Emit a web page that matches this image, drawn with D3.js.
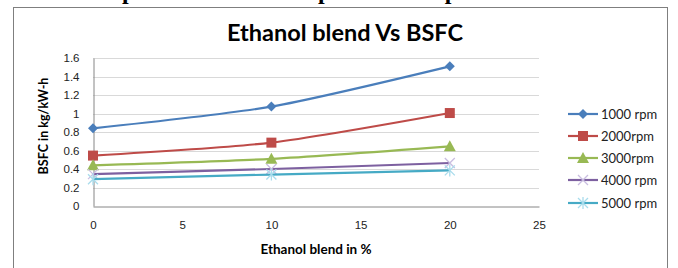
<!DOCTYPE html>
<html>
<head>
<meta charset="utf-8">
<script src="https://cdn.jsdelivr.net/npm/d3@7"></script>
<style>
  body { margin: 0; background: #fff; }
  svg { display: block; font-family: Lato, "Open Sans", sans-serif; }
  .grid line { stroke: #d9d9d9; }
  .axis path, .axis line { stroke: #868686; }
  .axis text { fill: #222; font-size: 11.5px; }
</style>
</head>
<body>
<svg id="chart" width="678" height="268"></svg>
<script>
// Data
var blend = [0, 10, 20];
var seriesNames = ["1000 rpm", "2000rpm", "3000rpm", "4000 rpm", "5000 rpm"];
var rpm1000 = [0.84, 1.075, 1.51];
var rpm2000 = [0.545, 0.685, 1.005];
var rpm3000 = [0.44, 0.51, 0.645];
var rpm4000 = [0.345, 0.40, 0.465];
var rpm5000 = [0.29, 0.34, 0.385];
var xTicks = [0, 5, 10, 15, 20, 25];
var yTicks = [0, 0.2, 0.4, 0.6, 0.8, 1, 1.2, 1.4, 1.6];

var colors = ["#4a7ebb", "#be4b48", "#98b954", "#7d60a0", "#46aac5"];
var markerColors = ["#4a7ebb", "#be4b48", "#98b954", "#c9bde0", "#a9dcec"];
var shapes = ["diamond", "square", "triangle", "x", "star"];

var series = seriesNames.map(function(name, i) {
  var vals = [rpm1000, rpm2000, rpm3000, rpm4000, rpm5000][i];
  return {
    name: name,
    values: blend.map(function(b, j) { return { x: b, y: vals[j] }; })
  };
});

var svg = d3.select("#chart");

// cut-off heading from the page above (only its lower edge shows)
svg.append("text")
  .attr("x", 8).attr("y", -1)
  .style("font-family", "'Liberation Serif', serif")
  .style("font-weight", "bold")
  .style("font-size", "24px")
  .text("4.3 Brake specific fuel consumption of sample");

// chart border
svg.append("rect")
  .attr("x", 13.5).attr("y", 7.5)
  .attr("width", 654).attr("height", 280)
  .attr("fill", "none").attr("stroke", "#7f7f7f");

var xScale = d3.scaleLinear().domain([0, 25]).range([93, 539]);
var yScale = d3.scaleLinear().domain([0, 1.6]).range([206, 58]);

// gridlines
svg.append("g").attr("class", "grid")
  .selectAll("line").data(yTicks.slice(1)).enter().append("line")
  .attr("x1", xScale(0)).attr("x2", xScale(25))
  .attr("y1", function(d) { return Math.round(yScale(d)) + 0.5; })
  .attr("y2", function(d) { return Math.round(yScale(d)) + 0.5; });

var xAxis = d3.axisBottom(xScale).tickValues(xTicks).tickSize(0).tickPadding(14)
  .tickFormat(d3.format("d"));
var yAxis = d3.axisLeft(yScale).tickValues(yTicks).tickSize(0).tickPadding(14)
  .tickFormat(function(d) { return d3.format("")(d); });

svg.append("g").attr("class", "axis")
  .attr("transform", "translate(0," + (Math.round(yScale(0)) + 0.5) + ")")
  .call(xAxis);
svg.append("g").attr("class", "axis")
  .attr("transform", "translate(" + (Math.round(xScale(0)) + 0.5) + ",0)")
  .call(yAxis);

// title and axis titles
svg.append("text")
  .attr("x", 345).attr("y", 41)
  .attr("text-anchor", "middle")
  .style("font-weight", "bold").style("font-size", "23.5px")
  .text("Ethanol blend Vs BSFC");

svg.append("text")
  .attr("x", 316).attr("y", 254)
  .attr("text-anchor", "middle")
  .style("font-weight", "bold").style("font-size", "13.5px")
  .text("Ethanol blend in %");

svg.append("text")
  .attr("transform", "translate(48,126) rotate(-90)")
  .attr("text-anchor", "middle")
  .style("font-weight", "bold").style("font-size", "12.5px")
  .text("BSFC in kg/kW-h");

// smooth lines like excel
var line = d3.line()
  .curve(d3.curveCardinal.tension(0.3))
  .x(function(d) { return xScale(d.x); })
  .y(function(d) { return yScale(d.y); });

function drawMarker(g, shape, color) {
  if (shape === "diamond") {
    g.append("path").attr("d", "M0,-5L5,0L0,5L-5,0Z").attr("fill", color);
  } else if (shape === "square") {
    g.append("rect").attr("x", -5).attr("y", -5).attr("width", 10).attr("height", 10)
      .attr("fill", color);
  } else if (shape === "triangle") {
    g.append("path").attr("d", "M0,-6L6,5L-6,5Z").attr("fill", color);
  } else if (shape === "x") {
    g.append("path").attr("d", "M-5,-5L5,5M-5,5L5,-5").attr("stroke", color)
      .attr("stroke-width", 1.3);
  } else {
    g.append("path").attr("d", "M-5,-5L5,5M-5,5L5,-5M0,-6L0,6").attr("stroke", color)
      .attr("stroke-width", 1.3);
  }
}

var groups = svg.selectAll(".series").data(series).enter().append("g")
  .attr("class", "series");

groups.append("path")
  .attr("d", function(d) { return line(d.values); })
  .attr("fill", "none")
  .attr("stroke", function(d, i) { return colors[i]; })
  .attr("stroke-width", 2.2);

groups.each(function(s, i) {
  d3.select(this).selectAll(".pt").data(s.values).enter().append("g")
    .attr("class", "pt")
    .attr("transform", function(d) { return "translate(" + xScale(d.x) + "," + yScale(d.y) + ")"; })
    .each(function() { drawMarker(d3.select(this), shapes[i], markerColors[i]); });
});

// legend
var legendY = [114, 136, 158, 180, 203];
var legend = svg.selectAll(".legend").data(seriesNames).enter().append("g")
  .attr("class", "legend")
  .attr("transform", function(d, i) { return "translate(568," + legendY[i] + ")"; });

legend.append("line")
  .attr("x1", 0).attr("x2", 30)
  .attr("stroke", function(d, i) { return colors[i]; })
  .attr("stroke-width", 2.2);
legend.each(function(d, i) {
  var m = d3.select(this).append("g").attr("transform", "translate(15,0)");
  drawMarker(m, shapes[i], markerColors[i]);
});
legend.append("text")
  .attr("x", 33).attr("y", 4.5)
  .style("font-size", "13px").style("fill", "#222")
  .text(function(d) { return d; });
</script>
</body>
</html>
